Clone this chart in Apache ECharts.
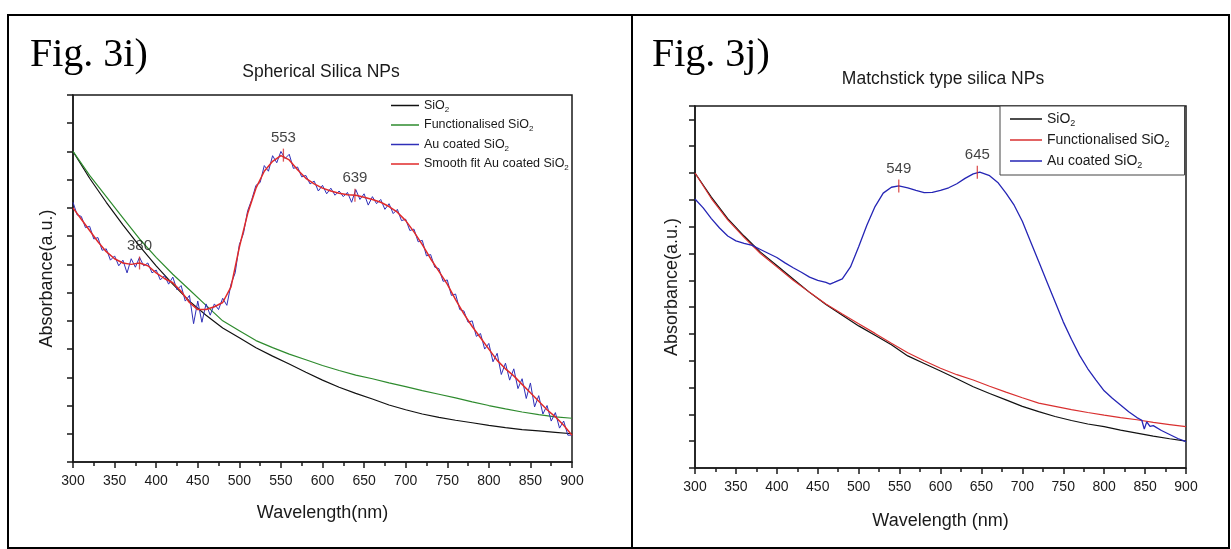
<!DOCTYPE html>
<html><head><meta charset="utf-8">
<script src="https://cdn.jsdelivr.net/npm/echarts@6/dist/echarts.min.js"></script>
<style>html,body{margin:0;padding:0;background:#fff}#c{width:1231px;height:549px}</style>
</head><body><div id="c"></div>
<script>
// ---------- Data (absorbance in arbitrary units) ----------
const xTickStep = 50;

// Fig 3i — Spherical silica NPs
const sphSiO2 = [[300,11.0],[320,10.05],[340,9.2],[360,8.4],[380,7.65],[400,6.95],[420,6.3],[440,5.7],[460,5.2],[480,4.75],[500,4.4],[520,4.05],[540,3.75],[560,3.47],[580,3.18],[600,2.9],[620,2.65],[640,2.43],[660,2.23],[680,2.02],[700,1.85],[720,1.7],[740,1.58],[760,1.48],[780,1.39],[800,1.3],[820,1.22],[840,1.15],[860,1.1],[880,1.05],[900,1.0]];
const sphFunc = [[300,11.0],[320,10.15],[340,9.4],[360,8.65],[380,7.9],[400,7.25],[420,6.65],[440,6.1],[460,5.55],[480,5.0],[500,4.65],[520,4.3],[540,4.05],[560,3.82],[580,3.62],[600,3.42],[620,3.24],[640,3.08],[660,2.95],[680,2.8],[700,2.67],[720,2.53],[740,2.4],[760,2.27],[780,2.13],[800,2.0],[820,1.88],[840,1.77],[860,1.68],[880,1.6],[900,1.55]];
const sphAu = [[300,9.2],[305,8.75],[310,8.7],[315,8.3],[320,8.35],[325,7.9],[330,7.95],[335,7.5],[340,7.55],[345,7.15],[350,7.3],[355,6.95],[360,7.15],[365,6.7],[370,7.2],[375,6.9],[380,7.25],[385,6.95],[390,7.05],[395,6.7],[400,6.8],[405,6.45],[410,6.6],[415,6.3],[420,6.55],[425,6.1],[430,6.25],[435,5.7],[440,5.9],[445,4.9],[450,5.7],[455,4.95],[460,5.6],[465,5.2],[470,5.6],[475,5.4],[480,5.8],[485,5.55],[490,6.3],[495,6.7],[500,7.7],[505,8.1],[510,8.9],[515,9.3],[520,9.8],[525,9.9],[530,10.5],[535,10.3],[540,10.85],[545,10.6],[550,11.0],[555,10.75],[560,10.9],[565,10.4],[570,10.45],[575,10.1],[580,10.15],[585,9.85],[590,9.95],[595,9.6],[600,9.8],[605,9.5],[610,9.7],[615,9.45],[620,9.6],[625,9.4],[630,9.55],[635,9.2],[640,9.65],[645,9.3],[650,9.5],[655,9.1],[660,9.4],[665,9.15],[670,9.3],[675,8.95],[680,9.15],[685,8.8],[690,8.95],[695,8.55],[700,8.6],[705,8.2],[710,8.25],[715,7.8],[720,7.85],[725,7.3],[730,7.35],[735,6.9],[740,6.85],[745,6.4],[750,6.45],[755,5.9],[760,5.95],[765,5.4],[770,5.35],[775,4.95],[780,5.0],[785,4.45],[790,4.55],[795,4.0],[800,4.2],[805,3.55],[810,3.85],[815,3.1],[820,3.5],[825,2.9],[830,3.3],[835,2.6],[840,2.95],[845,2.25],[850,2.8],[855,1.95],[860,2.35],[865,1.7],[870,2.0],[875,1.45],[880,1.75],[885,1.2],[890,1.45],[895,0.95],[900,0.95]];
const sphFit = [[300,9.0],[310,8.6],[320,8.2],[330,7.8],[340,7.45],[350,7.2],[360,7.05],[370,7.0],[380,7.05],[390,6.95],[400,6.7],[410,6.5],[420,6.35],[430,6.05],[440,5.65],[450,5.4],[460,5.4],[470,5.5],[480,5.65],[490,6.2],[500,7.6],[510,8.8],[520,9.7],[530,10.3],[540,10.65],[550,10.85],[560,10.7],[570,10.35],[580,10.05],[590,9.85],[600,9.7],[610,9.6],[620,9.52],[630,9.47],[640,9.45],[650,9.38],[660,9.3],[670,9.2],[680,9.05],[690,8.85],[700,8.55],[710,8.15],[720,7.7],[730,7.2],[740,6.75],[750,6.3],[760,5.75],[770,5.25],[780,4.8],[790,4.4],[800,4.0],[810,3.6],[820,3.3],[830,3.05],[840,2.75],[850,2.45],[860,2.15],[870,1.85],[880,1.6],[890,1.3],[900,0.95]];
const sphPeaks = [[380,7.05,'380'],[553,10.87,'553'],[639,9.45,'639']];

// Fig 3j — Matchstick type silica NPs
const matSiO2 = [[300,11.0],[320,10.1],[340,9.3],[360,8.65],[380,8.05],[400,7.55],[420,7.05],[440,6.55],[460,6.1],[480,5.7],[500,5.3],[520,4.95],[540,4.6],[560,4.18],[580,3.9],[600,3.62],[620,3.33],[640,3.03],[660,2.78],[680,2.54],[700,2.3],[720,2.1],[740,1.92],[760,1.77],[780,1.64],[800,1.54],[820,1.41],[840,1.3],[860,1.19],[880,1.09],[900,1.0]];
const matFunc = [[300,11.0],[320,10.05],[340,9.25],[360,8.6],[380,8.0],[400,7.5],[420,7.0],[440,6.55],[460,6.12],[480,5.74],[500,5.38],[520,5.02],[540,4.65],[560,4.3],[580,4.0],[600,3.72],[620,3.48],[640,3.28],[660,3.05],[680,2.83],[700,2.62],[720,2.42],[740,2.3],[760,2.18],[780,2.07],[800,1.97],[820,1.88],[840,1.8],[860,1.7],[880,1.62],[900,1.54]];
const matAu = [[300,10.03],[310,9.7],[320,9.3],[330,8.95],[340,8.65],[350,8.47],[360,8.38],[370,8.3],[380,8.15],[390,8.0],[400,7.85],[410,7.65],[420,7.47],[430,7.3],[440,7.12],[450,7.0],[460,6.92],[465,6.86],[470,6.92],[480,7.05],[490,7.5],[500,8.25],[510,9.05],[520,9.75],[530,10.25],[540,10.47],[549,10.52],[560,10.45],[570,10.35],[580,10.27],[590,10.28],[600,10.35],[610,10.45],[620,10.6],[630,10.8],[640,10.97],[648,11.03],[660,10.9],[670,10.65],[680,10.25],[690,9.8],[700,9.2],[710,8.45],[720,7.7],[730,6.95],[740,6.2],[750,5.45],[760,4.8],[770,4.2],[780,3.7],[790,3.28],[800,2.88],[810,2.6],[820,2.35],[830,2.1],[840,1.88],[846,1.78],[849,1.45],[852,1.72],[856,1.55],[860,1.58],[870,1.4],[880,1.25],[890,1.1],[900,0.98]];
const matPeaks = [[549,10.52,'549'],[645,11.03,'645']];

const sphNames = ['SiO2','Functionalised SiO2','Au coated SiO2','Smooth fit Au coated SiO2'];
// zero-width space keeps the right-panel names distinct from the left-panel ones
const matNames = ['SiO2\u200b','Functionalised SiO2\u200b','Au coated SiO2\u200b'];

// ---------- Chart ----------
const FONT = 'Liberation Sans, Arial, sans-serif';
const INK = '#1a1a1a';
const subFmt = n => n.replace('\u200b', '').replace('SiO2', 'SiO{sub|2}');

function xAxis(gridIndex, nameGap) {
  return {
    type: 'value', gridIndex, min: 300, max: 900, interval: xTickStep,
    name: gridIndex === 0 ? 'Wavelength(nm)' : 'Wavelength (nm)',
    nameLocation: 'middle', nameGap,
    nameTextStyle: {fontFamily: FONT, fontSize: 18, color: INK},
    axisLine: {lineStyle: {color: INK, width: 1.5}},
    axisTick: {inside: false, length: 6, lineStyle: {color: INK, width: 1.5}},
    minorTick: {show: true, splitNumber: 2, length: 4, lineStyle: {color: INK, width: 1.5}},
    axisLabel: {fontFamily: FONT, fontSize: 14, color: INK, margin: 12},
    splitLine: {show: false}, minorSplitLine: {show: false}
  };
}
function yAxis(gridIndex, max, nameGap) {
  return {
    type: 'value', gridIndex, min: 0, max, interval: 1,
    name: 'Absorbance(a.u.)', nameLocation: 'middle', nameGap,
    nameTextStyle: {fontFamily: FONT, fontSize: 18, color: INK},
    axisLine: {lineStyle: {color: INK, width: 1.5}},
    axisTick: {inside: false, length: 6, lineStyle: {color: INK, width: 1.5}},
    axisLabel: {show: false}, splitLine: {show: false}
  };
}
function line(name, data, color, width, xi) {
  return {type: 'line', name, data, xAxisIndex: xi, yAxisIndex: xi, showSymbol: false, symbol: 'none',
          lineStyle: {color, width}, itemStyle: {color}, animation: false, z: 2};
}
function peaks(data, xi) {
  return {type: 'scatter', xAxisIndex: xi, yAxisIndex: xi, symbol: 'rect', symbolSize: [1.3, 13],
          itemStyle: {color: '#d42a2a'}, z: 5, animation: false, silent: true,
          data: data.map(d => ({value: [d[0], d[1]], name: d[2]})),
          label: {show: true, position: 'top', distance: 3, formatter: p => p.name,
                  fontFamily: FONT, fontSize: 15, color: '#111'}};
}

const chart = echarts.init(document.getElementById('c'), null, {renderer: 'canvas'});
chart.setOption({
  backgroundColor: '#fff',
  animation: false,
  grid: [
    {left: 73, top: 95, width: 499, height: 367, show: true, borderColor: INK, borderWidth: 1.5, containLabel: false},
    {left: 695, top: 106, width: 491, height: 362, show: true, borderColor: INK, borderWidth: 1.5, containLabel: false}
  ],
  xAxis: [xAxis(0, 42), xAxis(1, 44)],
  yAxis: [yAxis(0, 13, 17), yAxis(1, 13.5, 14)],
  legend: [
    {data: sphNames, orient: 'vertical', left: 391, top: 99, icon: 'rect', itemWidth: 28, itemHeight: 1.5, itemGap: 5,
     padding: 0, formatter: subFmt, selectedMode: false,
     textStyle: {fontFamily: FONT, fontSize: 12.5, color: INK,
       rich: {sub: {fontFamily: FONT, fontSize: 8, color: INK, padding: [8, 0, 0, 0]}}}},
    {data: matNames, orient: 'vertical', left: 1000, top: 106, icon: 'rect', itemWidth: 32, itemHeight: 1.5, itemGap: 5,
     padding: [6, 15, 5, 10], backgroundColor: '#fff', borderColor: '#444', borderWidth: 1,
     formatter: subFmt, selectedMode: false,
     textStyle: {fontFamily: FONT, fontSize: 14, color: INK,
       rich: {sub: {fontFamily: FONT, fontSize: 9, color: INK, padding: [9, 0, 0, 0]}}}}
  ],
  series: [
    line(sphNames[0], sphSiO2, '#111111', 1.2, 0),
    line(sphNames[1], sphFunc, '#2e8b2e', 1.2, 0),
    line(sphNames[2], sphAu, '#2f2fb8', 1, 0),
    line(sphNames[3], sphFit, '#e02a2a', 1.5, 0),
    peaks(sphPeaks, 0),
    line(matNames[0], matSiO2, '#111111', 1.2, 1),
    line(matNames[1], matFunc, '#d93030', 1.2, 1),
    line(matNames[2], matAu, '#2525b5', 1.3, 1),
    peaks(matPeaks, 1)
  ],
  graphic: [
    {type: 'rect', shape: {x: 8, y: 15, width: 1221, height: 533}, style: {fill: 'none', stroke: '#000', lineWidth: 2}, z: 10},
    {type: 'line', shape: {x1: 632, y1: 15, x2: 632, y2: 548}, style: {stroke: '#000', lineWidth: 2}, z: 10},
    {type: 'text', x: 30, y: 55, style: {text: 'Fig. 3i)', font: '40px "Liberation Serif", "Times New Roman", serif', fill: '#000', verticalAlign: 'middle'}},
    {type: 'text', x: 652, y: 55, style: {text: 'Fig. 3j)', font: '40px "Liberation Serif", "Times New Roman", serif', fill: '#000', verticalAlign: 'middle'}},
    {type: 'text', x: 321, y: 72, style: {text: 'Spherical Silica NPs', font: '17.5px ' + FONT, fill: INK, align: 'center', verticalAlign: 'middle'}},
    {type: 'text', x: 943, y: 79, style: {text: 'Matchstick type silica NPs', font: '17.5px ' + FONT, fill: INK, align: 'center', verticalAlign: 'middle'}}
  ]
});
</script>
</body></html>
